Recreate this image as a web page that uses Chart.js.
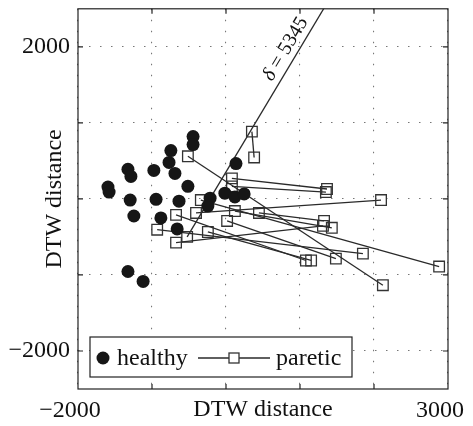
<!DOCTYPE html>
<html>
<head>
<meta charset="utf-8">
<script src="https://cdn.jsdelivr.net/npm/chart.js@4.4.0/dist/chart.umd.min.js"></script>
<style>
  html, body { margin: 0; padding: 0; background: #fff; }
  #wrap { width: 473px; height: 426px; }
</style>
</head>
<body>
<div id="wrap"><canvas id="dtw-chart" width="473" height="426"></canvas></div>
<script>
/* ---------------------------------------------------------------- */
/* DTW distance scatter: healthy vs paretic                          */
/* ---------------------------------------------------------------- */

// healthy subjects (filled dots)
const healthyX = [-1595, -1580, -1325, -1285, -975, -745, -770, -690, -445, -445, -515, -1295, -945, -635, -1245, -880, -660, -1325, -1120, 135, -215, -245, -15, 120, 245];
const healthyY = [155, 90, 390, 295, 375, 635, 480, 335, 820, 715, 165, -15, -5, -30, -225, -250, -395, -955, -1085, 465, 10, -95, 75, 25, 65];

// paretic subjects: one segment per subject (start -> end)
const pareticStartX = [350, -515, 80, 80, -340, -405, -675, 120, 445, 15, -930, -245, -675];
const pareticStartY = [885, 560, 270, 165, -15, -185, -210, -160, -185, -290, -405, -435, -575];
const pareticEndX = [380, 2120, 1365, 1350, 2880, 2095, 1080, 1430, 1325, 1485, 1850, 1150, 1310];
const pareticEndY = [545, -1135, 130, 90, -890, -15, -810, -380, -290, -785, -720, -810, -355];

// the one segment that leaves the plot, with its length
const deltaStart = { x: -525, y: -500 };
const deltaEnd = { x: 2275, y: 4055 };
const deltaValue = 5345;

// axes
const xTickValues = [-2000, -1000, 0, 1000, 2000, 3000];
const xTickLabels = ['\u22122000', '', '', '', '', '3000'];
const yTickValues = [-2000, -1000, 0, 1000, 2000];
const yTickLabels = ['\u22122000', '', '', '', '2000'];

const serif = 'Liberation Serif';
const ink = '#111';

const datasets = [{
    label: 'healthy',
    data: healthyX.map((x, i) => ({ x: x, y: healthyY[i] })),
    pointStyle: 'circle',
    pointRadius: 6.5,
    backgroundColor: '#161616',
    borderWidth: 0,
    showLine: false
}];

pareticStartX.forEach((x, i) => {
    datasets.push({
        label: 'paretic',
        data: [{ x: x, y: pareticStartY[i] }, { x: pareticEndX[i], y: pareticEndY[i] }],
        showLine: true,
        borderColor: '#2a2a2a',
        borderWidth: 1.3,
        pointStyle: 'rect',
        pointRadius: 7.5,
        pointBorderColor: '#333',
        pointBackgroundColor: 'rgba(0,0,0,0)',
        pointBorderWidth: 1.3
    });
});

datasets.push({
    label: 'paretic',
    data: [deltaStart, deltaEnd],
    showLine: true,
    borderColor: '#2a2a2a',
    borderWidth: 1.3,
    pointStyle: 'rect',
    pointRadius: ctx => (ctx.dataIndex === 0 ? 7.5 : 0),
    pointBorderColor: '#333',
    pointBackgroundColor: 'rgba(0,0,0,0)',
    pointBorderWidth: 1.3
});

// frame, inner tick marks, legend box and the delta label
const decorations = {
    id: 'decorations',
    afterDraw(chart) {
        const ctx = chart.ctx;
        const area = chart.chartArea;
        const xs = chart.scales.x;
        const ys = chart.scales.y;

        ctx.save();
        ctx.strokeStyle = '#222';
        ctx.lineWidth = 1.2;
        ctx.strokeRect(area.left, area.top, area.right - area.left, area.bottom - area.top);

        ctx.beginPath();
        xs.ticks.forEach(t => {
            const px = xs.getPixelForValue(t.value);
            if (px <= area.left + 1 || px >= area.right - 1) return;
            ctx.moveTo(px, area.bottom); ctx.lineTo(px, area.bottom - 5);
            ctx.moveTo(px, area.top); ctx.lineTo(px, area.top + 5);
        });
        ys.ticks.forEach(t => {
            const py = ys.getPixelForValue(t.value);
            ctx.moveTo(area.left, py); ctx.lineTo(area.left + 5, py);
            ctx.moveTo(area.right, py); ctx.lineTo(area.right - 5, py);
        });
        ctx.stroke();

        // delta label along the long segment
        const p1 = { x: xs.getPixelForValue(deltaStart.x), y: ys.getPixelForValue(deltaStart.y) };
        const p2 = { x: xs.getPixelForValue(deltaEnd.x), y: ys.getPixelForValue(deltaEnd.y) };
        const t = 0.525;
        const angle = Math.atan2(p2.y - p1.y, p2.x - p1.x);
        ctx.save();
        ctx.translate(p1.x + (p2.x - p1.x) * t, p1.y + (p2.y - p1.y) * t);
        ctx.rotate(angle);
        ctx.fillStyle = ink;
        ctx.textBaseline = 'bottom';
        ctx.textAlign = 'left';
        ctx.font = 'italic 20px "' + serif + '"';
        const d = '\u03b4';
        const dw = ctx.measureText(d).width;
        ctx.font = '20px "' + serif + '"';
        const rest = ' = ' + deltaValue;
        const rw = ctx.measureText(rest).width;
        const start = -(dw + rw) / 2;
        ctx.font = 'italic 20px "' + serif + '"';
        ctx.fillText(d, start, -2);
        ctx.font = '20px "' + serif + '"';
        ctx.fillText(rest, start + dw, -2);
        ctx.restore();

        // legend box in the lower left corner
        const bx = area.left + 12, by = area.bottom - 52, bw = 262, bh = 40;
        ctx.fillStyle = '#fff';
        ctx.fillRect(bx, by, bw, bh);
        ctx.strokeStyle = '#222';
        ctx.lineWidth = 1.2;
        ctx.strokeRect(bx, by, bw, bh);
        const cy = by + 21;
        ctx.fillStyle = '#161616';
        ctx.beginPath();
        ctx.arc(bx + 13, cy, 6.5, 0, Math.PI * 2);
        ctx.fill();
        ctx.fillStyle = ink;
        ctx.font = '24px "' + serif + '"';
        ctx.textAlign = 'left';
        ctx.textBaseline = 'alphabetic';
        ctx.fillText('healthy', bx + 27, cy + 7);
        ctx.strokeStyle = '#2a2a2a';
        ctx.lineWidth = 1.3;
        ctx.beginPath();
        ctx.moveTo(bx + 108, cy); ctx.lineTo(bx + 180, cy);
        ctx.stroke();
        ctx.fillStyle = '#fff';
        ctx.fillRect(bx + 139, cy - 5, 10, 10);
        ctx.strokeStyle = '#333';
        ctx.strokeRect(bx + 139, cy - 5, 10, 10);
        ctx.fillStyle = ink;
        ctx.fillText('paretic', bx + 186, cy + 7);
        ctx.restore();
    }
};

new Chart(document.getElementById('dtw-chart'), {
    type: 'scatter',
    data: { datasets: datasets },
    options: {
        responsive: false,
        animation: false,
        events: [],
        layout: { padding: { left: 0, right: 25, top: 7, bottom: 0 } },
        plugins: {
            legend: { display: false },
            tooltip: { enabled: false }
        },
        scales: {
            x: {
                type: 'linear',
                min: -2000,
                max: 3000,
                afterBuildTicks: s => { s.ticks = xTickValues.map(v => ({ value: v })); },
                afterFit: s => {
                    s.height = 37;
                    s.paddingLeft = 0; s.paddingRight = 0; s.paddingTop = 0; s.paddingBottom = 0;
                },
                ticks: {
                    autoSkip: false,
                    maxRotation: 0,
                    padding: 7,
                    labelOffset: -8,
                    color: ink,
                    font: { family: serif, size: 24 },
                    callback: (v, i) => xTickLabels[i]
                },
                grid: { color: '#777', lineWidth: 1.1, drawTicks: false },
                border: { display: false, dash: [1.5, 9.5] },
                title: {
                    display: true,
                    text: 'DTW distance',
                    color: ink,
                    font: { family: serif, size: 24 },
                    padding: { top: 0, bottom: 1.6 }
                }
            },
            y: {
                type: 'linear',
                min: -2500,
                max: 2500,
                afterBuildTicks: s => { s.ticks = yTickValues.map(v => ({ value: v })); },
                afterFit: s => {
                    s.width = 78;
                    s.paddingLeft = 0; s.paddingRight = 0; s.paddingTop = 0; s.paddingBottom = 0;
                },
                ticks: {
                    autoSkip: false,
                    padding: 8,
                    color: ink,
                    font: { family: serif, size: 24 },
                    callback: (v, i) => yTickLabels[i]
                },
                grid: { color: '#777', lineWidth: 1.1, drawTicks: false },
                border: { display: false, dash: [1.5, 9.5] },
                title: {
                    display: true,
                    text: 'DTW distance',
                    color: ink,
                    font: { family: serif, size: 24 },
                    padding: { top: 40.6, bottom: 0 }
                }
            }
        }
    },
    plugins: [decorations]
});
</script>
</body>
</html>
